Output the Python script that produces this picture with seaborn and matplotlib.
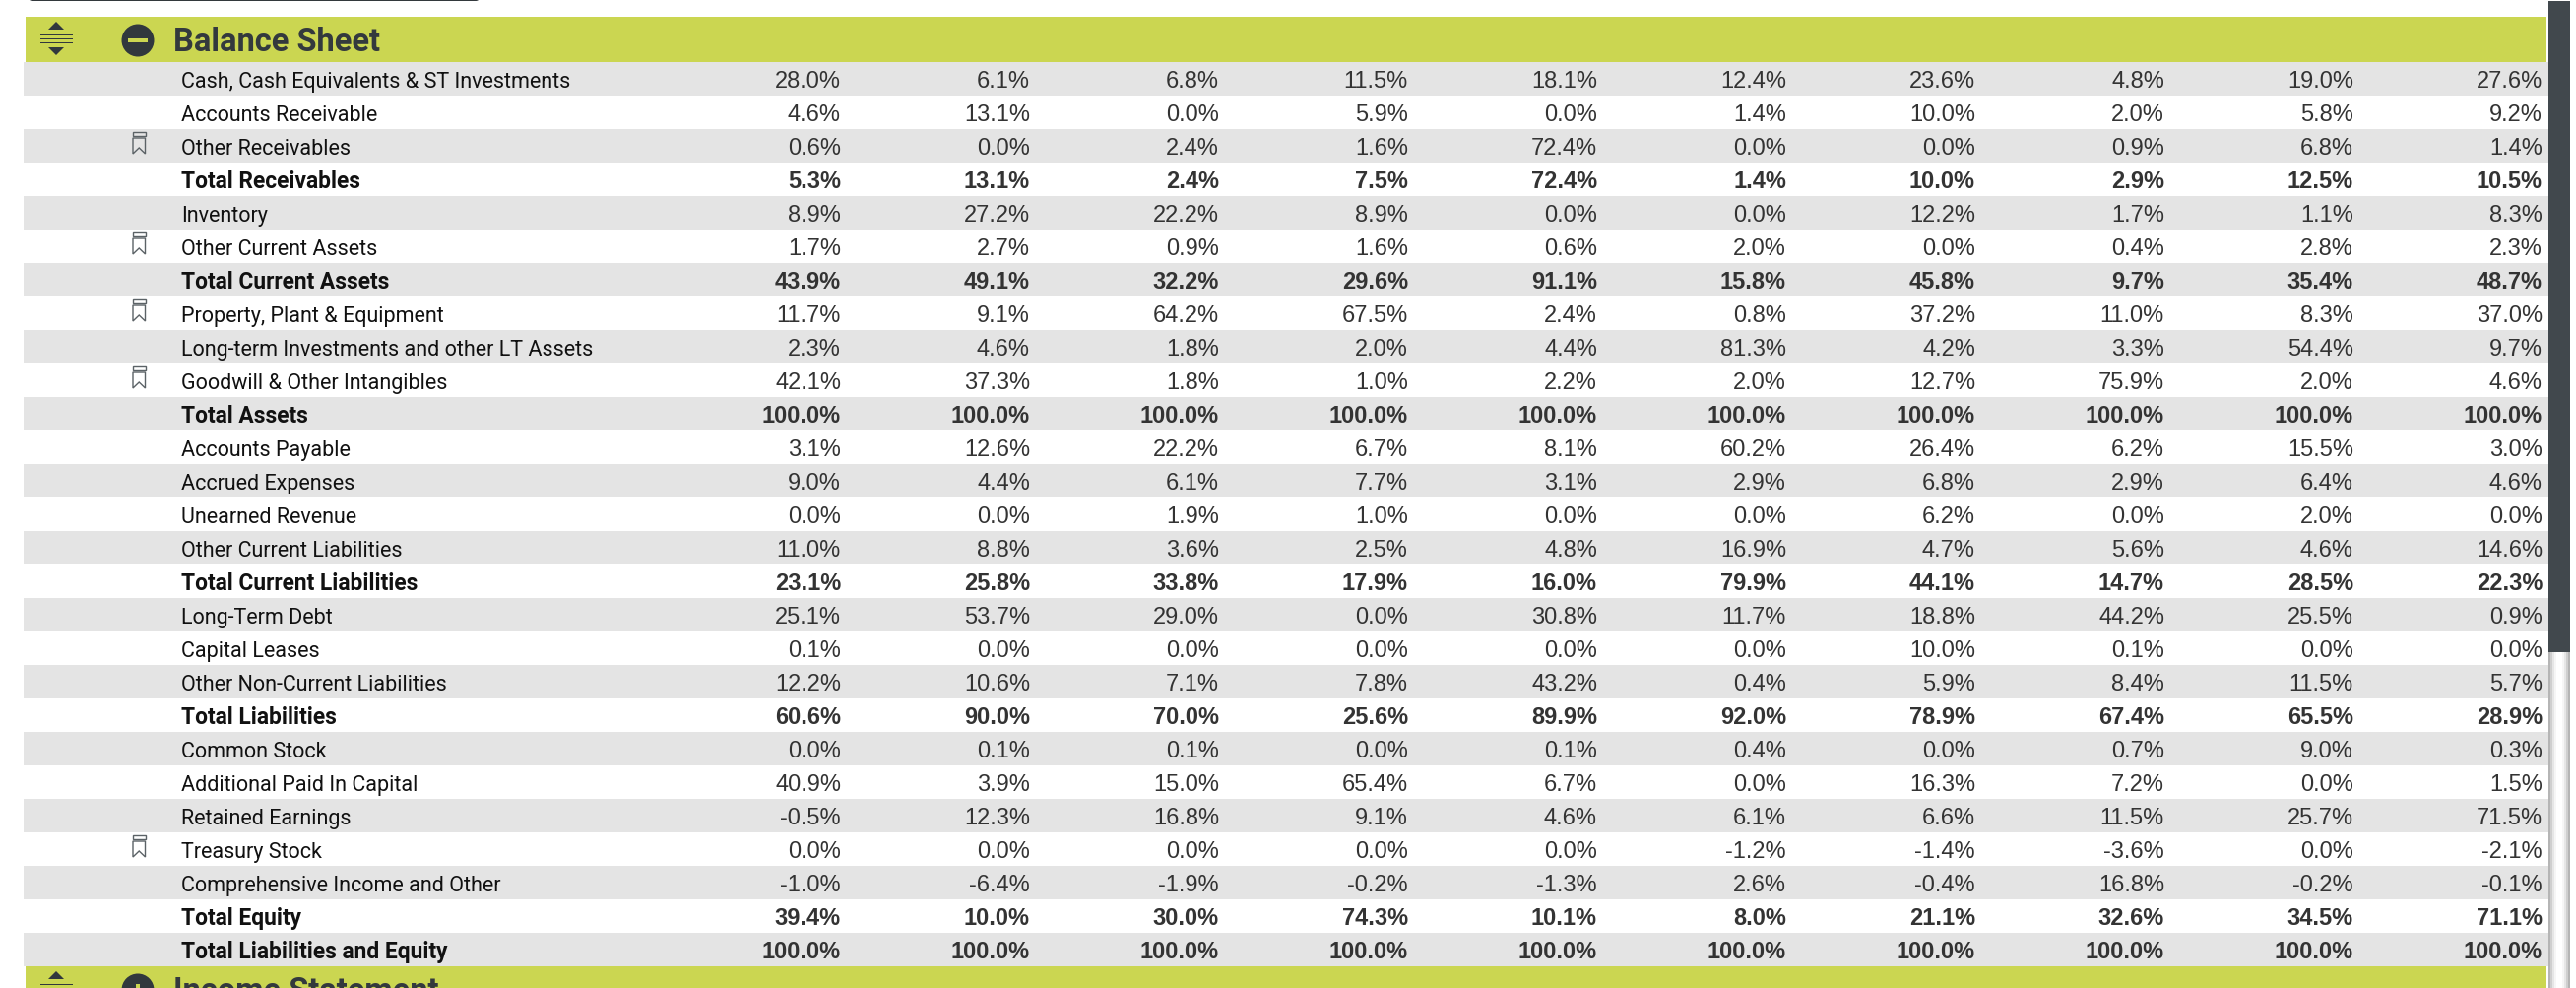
import numpy as np
import matplotlib
matplotlib.use("Agg")
import matplotlib.pyplot as plt
from matplotlib.colors import ListedColormap
from matplotlib.patches import Circle, FancyBboxPatch, Polygon, Rectangle
import seaborn as sns

# --- donnees ---
row_labels = [
    "Cash, Cash Equivalents & ST Investments", "Accounts Receivable", "Other Receivables",
    "Total Receivables", "Inventory", "Other Current Assets", "Total Current Assets",
    "Property, Plant & Equipment", "Long-term Investments and other LT Assets",
    "Goodwill & Other Intangibles", "Total Assets", "Accounts Payable", "Accrued Expenses",
    "Unearned Revenue", "Other Current Liabilities", "Total Current Liabilities",
    "Long-Term Debt", "Capital Leases", "Other Non-Current Liabilities", "Total Liabilities",
    "Common Stock", "Additional Paid In Capital", "Retained Earnings", "Treasury Stock",
    "Comprehensive Income and Other", "Total Equity", "Total Liabilities and Equity",
]
values = [
    [28.0, 6.1, 6.8, 11.5, 18.1, 12.4, 23.6, 4.8, 19.0, 27.6],
    [4.6, 13.1, 0.0, 5.9, 0.0, 1.4, 10.0, 2.0, 5.8, 9.2],
    [0.6, 0.0, 2.4, 1.6, 72.4, 0.0, 0.0, 0.9, 6.8, 1.4],
    [5.3, 13.1, 2.4, 7.5, 72.4, 1.4, 10.0, 2.9, 12.5, 10.5],
    [8.9, 27.2, 22.2, 8.9, 0.0, 0.0, 12.2, 1.7, 1.1, 8.3],
    [1.7, 2.7, 0.9, 1.6, 0.6, 2.0, 0.0, 0.4, 2.8, 2.3],
    [43.9, 49.1, 32.2, 29.6, 91.1, 15.8, 45.8, 9.7, 35.4, 48.7],
    [11.7, 9.1, 64.2, 67.5, 2.4, 0.8, 37.2, 11.0, 8.3, 37.0],
    [2.3, 4.6, 1.8, 2.0, 4.4, 81.3, 4.2, 3.3, 54.4, 9.7],
    [42.1, 37.3, 1.8, 1.0, 2.2, 2.0, 12.7, 75.9, 2.0, 4.6],
    [100.0, 100.0, 100.0, 100.0, 100.0, 100.0, 100.0, 100.0, 100.0, 100.0],
    [3.1, 12.6, 22.2, 6.7, 8.1, 60.2, 26.4, 6.2, 15.5, 3.0],
    [9.0, 4.4, 6.1, 7.7, 3.1, 2.9, 6.8, 2.9, 6.4, 4.6],
    [0.0, 0.0, 1.9, 1.0, 0.0, 0.0, 6.2, 0.0, 2.0, 0.0],
    [11.0, 8.8, 3.6, 2.5, 4.8, 16.9, 4.7, 5.6, 4.6, 14.6],
    [23.1, 25.8, 33.8, 17.9, 16.0, 79.9, 44.1, 14.7, 28.5, 22.3],
    [25.1, 53.7, 29.0, 0.0, 30.8, 11.7, 18.8, 44.2, 25.5, 0.9],
    [0.1, 0.0, 0.0, 0.0, 0.0, 0.0, 10.0, 0.1, 0.0, 0.0],
    [12.2, 10.6, 7.1, 7.8, 43.2, 0.4, 5.9, 8.4, 11.5, 5.7],
    [60.6, 90.0, 70.0, 25.6, 89.9, 92.0, 78.9, 67.4, 65.5, 28.9],
    [0.0, 0.1, 0.1, 0.0, 0.1, 0.4, 0.0, 0.7, 9.0, 0.3],
    [40.9, 3.9, 15.0, 65.4, 6.7, 0.0, 16.3, 7.2, 0.0, 1.5],
    [-0.5, 12.3, 16.8, 9.1, 4.6, 6.1, 6.6, 11.5, 25.7, 71.5],
    [0.0, 0.0, 0.0, 0.0, 0.0, -1.2, -1.4, -3.6, 0.0, -2.1],
    [-1.0, -6.4, -1.9, -0.2, -1.3, 2.6, -0.4, 16.8, -0.2, -0.1],
    [39.4, 10.0, 30.0, 74.3, 10.1, 8.0, 21.1, 32.6, 34.5, 71.1],
    [100.0, 100.0, 100.0, 100.0, 100.0, 100.0, 100.0, 100.0, 100.0, 100.0],
]
bold_rows = [3, 6, 10, 15, 19, 25, 26]
bookmark_rows = [2, 5, 7, 9, 23]
section_titles = ["Balance Sheet", "Income Statement"]

# --- mise en page, en pixels ---
W, H = 2616, 1004
ROW_H = 34
TOP = 64
LEFT, RIGHT = 24, 2588
COL0_RIGHT, COL_STEP = 854, 192
LIME = "#cbd651"
DARK = "#31383d"
STRIPE = "#e4e4e4"

sns.set_theme(style="white")
plt.rcParams["font.family"] = ["Liberation Sans", "DejaVu Sans"]
LABEL_FONT = ["Roboto", "Lato"]

fig = plt.figure(figsize=(W / 100, H / 100), dpi=100, facecolor="white")

# bandes alternees du tableau
n_rows = len(row_labels)
ax_rows = fig.add_axes([LEFT / W, (H - TOP - n_rows * ROW_H) / H, (RIGHT - LEFT) / W, n_rows * ROW_H / H])
stripes = np.arange(n_rows).reshape(-1, 1) % 2
sns.heatmap(stripes, ax=ax_rows, cmap=ListedColormap([STRIPE, "white"]), cbar=False,
            xticklabels=False, yticklabels=False, vmin=0, vmax=1)

# calque en pixels pour le texte et les icones
ax = fig.add_axes([0, 0, 1, 1], facecolor="none")
ax.set_xlim(0, W)
ax.set_ylim(H, 0)
ax.axis("off")


def draw_section_icon(y_mid, title, collapsed):
    ax.add_patch(Polygon([[49, y_mid - 10], [65, y_mid - 10], [57, y_mid - 18]], color=DARK, lw=0))
    for dy in (-5.5, -1.5, 2.5):
        ax.add_patch(Rectangle((41, y_mid + dy), 33, 1.6, color=DARK, lw=0))
    ax.add_patch(Polygon([[49, y_mid + 8], [65, y_mid + 8], [57, y_mid + 16]], color=DARK, lw=0))
    ax.add_patch(Circle((140, y_mid + 1), 16.5, color=DARK, lw=0))
    ax.add_patch(Rectangle((130, y_mid - 1), 20, 4, color=LIME, lw=0))
    if collapsed:
        ax.add_patch(Rectangle((138.2, y_mid - 5), 3.6, 12, color=LIME, lw=0))
    ax.text(176, y_mid + 11, title, family=LABEL_FONT, fontsize=23.5, weight="bold", color="#33393d", va="baseline")


def draw_bookmark(top):
    x0, x1 = 135, 147.5
    ax.add_patch(Rectangle((x0, top + 3), x1 - x0, 4, fill=False, ec="#5b6266", lw=1))
    ax.add_patch(Polygon([[x0, top + 9], [x1, top + 9], [x1, top + 25], [(x0 + x1) / 2, top + 19], [x0, top + 25]],
                         closed=True, fill=False, ec="#5b6266", lw=1))


# barres de section
ax.add_patch(Rectangle((26, 18), RIGHT - 2 - 26, TOP - 18, color=LIME, lw=0))
ax.add_patch(Rectangle((26, 982), RIGHT - 2 - 26, H - 982, color=LIME, lw=0))
draw_section_icon(41, section_titles[0], False)
draw_section_icon(1005, section_titles[1], True)

# lignes du tableau
for i, (label, row) in enumerate(zip(row_labels, values)):
    top = TOP + i * ROW_H
    is_bold = i in bold_rows
    weight = "bold" if is_bold else "normal"
    ax.text(184, top + 25, label, family=LABEL_FONT, fontsize=16.4 if is_bold else 15.5, weight=weight,
            color="#111111", va="baseline")
    for j, v in enumerate(row):
        ax.text(COL0_RIGHT + j * COL_STEP, top + 25.4, f"{v:.1f}%", fontsize=17, weight=weight,
                color="#333333", ha="right", va="baseline")
    if i in bookmark_rows:
        draw_bookmark(top)

# barre de defilement
for x0, c in zip(range(2588, 2610, 2), ["#b5b5b5", "#cfcfcf", "#e6e6e6", "#f6f6f6", "#ffffff", "#ffffff",
                                        "#ffffff", "#f6f6f6", "#e6e6e6", "#cfcfcf", "#b5b5b5"]):
    ax.add_patch(Rectangle((x0, 663), 2, H - 663, color=c, lw=0))
ax.add_patch(Rectangle((2588, 2), 22, 661, color="#41484d", lw=0))

# bord sombre du composant au-dessus
ax.add_patch(FancyBboxPatch((29, -8), 458, 10, boxstyle="round,pad=0,rounding_size=4", color="#33393d", lw=0))

fig.savefig("out.png", dpi=100, facecolor="white")
